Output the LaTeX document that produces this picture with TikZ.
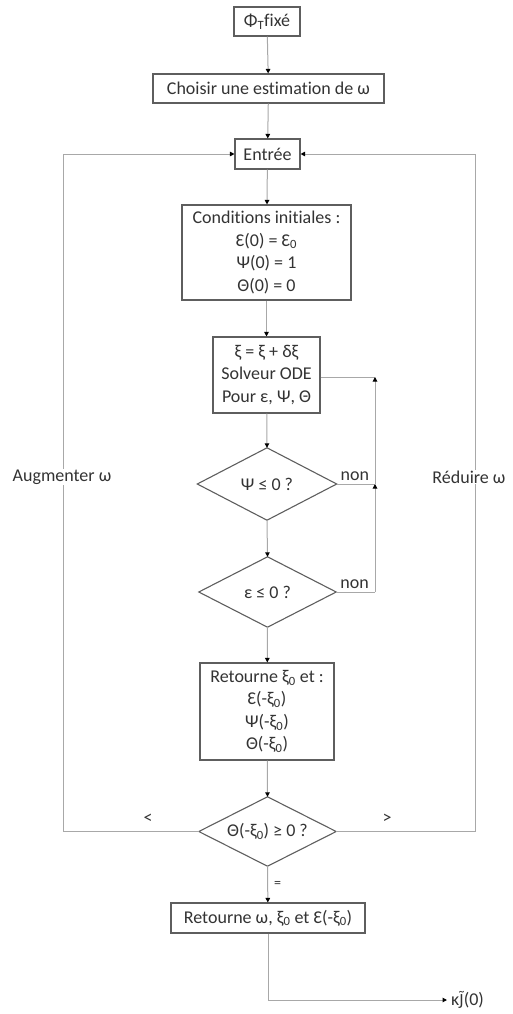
\documentclass[tikz,border=0pt]{standalone}
\usepackage{fontspec}
\setmainfont{Carlito}[Ligatures=NoCommon]
\newfontfamily\dvs{DejaVu Sans}
\usetikzlibrary{arrows.meta}
\definecolor{txt}{HTML}{333333}
\definecolor{bord}{HTML}{5E5E5E}
\definecolor{conn}{HTML}{A8A8A8}
\newcommand{\Eps}{Ɛ}
\newcommand{\zs}{\textsubscript{0}}
\begin{document}
\begin{tikzpicture}[x=1pt,y=-1pt,
  every node/.style={font=\fontsize{18}{22.5}\selectfont, text=txt},
  box/.style={draw=bord, line width=1.1pt, fill=white, align=center, inner sep=0pt},
  dia/.style={draw=none, align=center, inner sep=0pt},
  conline/.style={draw=conn, line width=1pt},
  arr/.style={conline, -{Triangle[length=4.5pt,width=4.5pt,color=black]}},
  lbl/.style={fill=white, inner sep=1pt}]
\useasboundingbox (0,0) rectangle (513,1014);
\node[box, minimum width=66pt, minimum height=29pt] (phi) at (267,21.5) {Φ\textsubscript{T}fixé};
\node[box, minimum width=231pt, minimum height=29pt] (choisir) at (268.5,88.5) {Choisir une estimation de ω};
\node[box, minimum width=65pt, minimum height=30pt] (entree) at (267.5,154) {Entrée};
\node[box, minimum width=169pt, minimum height=95pt] (cond) at (266.5,252.5) {Conditions initiales :\\ \Eps(0) = \Eps\zs\\ Ψ(0) = 1\\ Θ(0) = 0};
\node[box, minimum width=107pt, minimum height=76pt] (xi) at (266.5,375) {ξ = ξ + δξ\\ Solveur ODE\\ Pour ε, Ψ, Θ};
\node[dia, minimum width=139pt, minimum height=72pt] (psi) at (267,484) {Ψ ≤ 0 ?};
\node[dia, minimum width=137pt, minimum height=70pt] (eps) at (267.5,592) {ε ≤ 0 ?};
\node[box, minimum width=134pt, minimum height=97pt] (ret) at (267,711.5) {Retourne ξ\zs{} et :\\ \Eps(-ξ\zs)\\ Ψ(-ξ\zs)\\ Θ(-ξ\zs)};
\node[dia, minimum width=137pt, minimum height=69pt] (theta) at (267.5,831.5) {Θ(-ξ\zs) ≥ 0 ?};
\node[box, minimum width=194pt, minimum height=30pt] (fin) at (268,918) {Retourne ω, ξ\zs{} et \Eps(-ξ\zs)};
\node[anchor=west, inner sep=0pt] (kappa) at (451,1000) {κ{\dvs\fontsize{15}{18}\selectfont J̃}(0)};
\foreach \d in {psi,eps,theta}
  \draw[draw=bord, line width=1.1pt] (\d.north) -- (\d.east) -- (\d.south) -- (\d.west) -- cycle;
% main flow
\draw[arr] (phi) -- (choisir);
\draw[arr] (choisir) -- (entree);
\draw[arr] (entree) -- (cond);
\draw[arr] (cond) -- (xi);
\draw[arr] (xi) -- (psi.north);
\draw[arr] (psi.south) -- (eps.north);
\draw[arr] (eps.south) -- (ret);
\draw[arr] (ret) -- (theta.north);
\draw[arr] (theta.south) -- node[right, inner sep=6pt, font=\fontsize{14}{14}\selectfont] {=} (fin);
% non loops
\coordinate (j1) at (375,377);
\coordinate (j2) at (375,484);
\coordinate (j3) at (375,591);
\draw[conline] (xi.east |- j1) -- (j1);
\draw[conline] (psi.east) -- node[above, inner sep=3pt, xshift=-1pt] {non} (j2);
\draw[arr] (j2) -- (j1);
\draw[conline] (eps.east) -- node[above, inner sep=3pt, xshift=-1pt] {non} (eps.east -| j3);
\draw[arr] (eps.east -| j3) -- (j2);
% outer loops
\coordinate (lc) at (63,831.5);
\coordinate (rc) at (475,831.5);
\draw[arr] (theta.west) -- (lc) -- (lc |- entree.west) -- (entree.west);
\draw[arr] (theta.east) -- (rc) -- (rc |- entree.east) -- (entree.east);
\node[lbl] (aug) at (62,477) {Augmenter ω};
\node[lbl] (red) at (469,477) {Réduire ω};
\node (lt) at (148,819) {<};
\node (gt) at (387,819) {>};
% output
\coordinate (oc) at (fin.south |- kappa.west);
\draw[arr] (fin.south) -- (oc) -- ([xshift=-4pt]kappa.west);
\end{tikzpicture}
\end{document}
